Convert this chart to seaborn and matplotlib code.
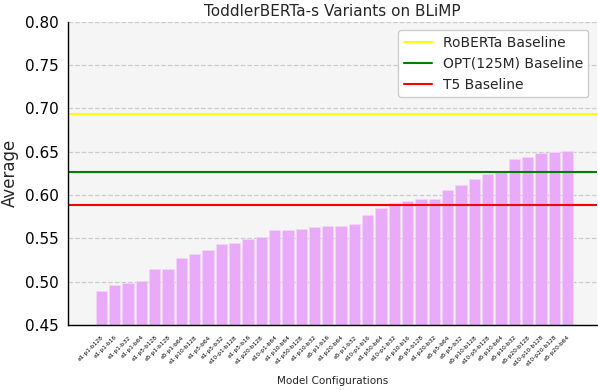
import matplotlib
matplotlib.use("Agg")
import matplotlib.pyplot as plt
import seaborn as sns
import pandas as pd

configs = [
    "e1-p1-b128", "e1-p1-b16", "e1-p1-b32", "e1-p1-b64", "e1-p5-b128", "e5-p1-b128",
    "e5-p1-b64", "e1-p10-b128", "e1-p5-b64", "e1-p5-b32", "e10-p1-b128", "e1-p5-b16",
    "e1-p20-b128", "e10-p1-b64", "e1-p10-b64", "e1-p50-b128", "e1-p10-b32", "e5-p1-b16",
    "e1-p20-b64", "e5-p1-b32", "e10-p1-b16", "e1-p50-b64", "e10-p1-b32", "e1-p10-b16",
    "e5-p5-b128", "e1-p20-b32", "e5-p5-b64", "e5-p5-b32", "e5-p10-b128", "e10-p5-b128",
    "e5-p10-b64", "e5-p10-b32", "e5-p20-b128", "e10-p10-b128", "e10-p20-b128", "e5-p20-b64",
]
averages = [
    0.489, 0.496, 0.498, 0.501, 0.514, 0.515,
    0.527, 0.532, 0.536, 0.543, 0.545, 0.549,
    0.552, 0.559, 0.560, 0.561, 0.563, 0.564,
    0.564, 0.566, 0.577, 0.585, 0.591, 0.593,
    0.595, 0.595, 0.606, 0.612, 0.619, 0.624,
    0.626, 0.642, 0.644, 0.649, 0.650, 0.651,
]
baseline_names = ["RoBERTa Baseline", "OPT(125M) Baseline", "T5 Baseline"]
baseline_values = [0.694, 0.626, 0.589]
baseline_colors = ["yellow", "green", "red"]

df = pd.DataFrame({"config": configs, "average": averages})

sns.set_style("whitegrid")
plt.rcParams["font.family"] = ["DejaVu Sans"]

fig, ax = plt.subplots(figsize=(5.98, 3.9), dpi=100)
ax.set_facecolor("#f5f5f5")

sns.barplot(data=df, x="config", y="average", color="#e8aaf9", saturation=1,
            width=0.85, edgecolor="#f3d6fb", linewidth=0.6, ax=ax)

for name, val, col in zip(baseline_names, baseline_values, baseline_colors):
    ax.axhline(val, color=col, linewidth=1.5, label=name)

ax.set_ylim(0.45, 0.80)
ax.set_xlim(-2.5, len(configs) + 1.2)
ax.grid(axis="y", linestyle="--", color="#cccccc", linewidth=0.9)
ax.grid(axis="x", visible=False)
ax.set_axisbelow(True)

for s in ["top", "right"]:
    ax.spines[s].set_visible(False)
for s in ["left", "bottom"]:
    ax.spines[s].set_color("black")
    ax.spines[s].set_linewidth(1.0)

ax.tick_params(axis="x", labelsize=4.2, rotation=45, length=4, width=0.8, colors="black", pad=3)
ax.tick_params(axis="y", labelsize=11, length=3.5, width=0.8, colors="black")
plt.setp(ax.get_xticklabels(), ha="right", rotation_mode="anchor")

ax.set_title("ToddlerBERTa-s Variants on BLiMP", fontsize=11, pad=4)
ax.set_ylabel("Average", fontsize=12)
ax.set_xlabel("Model Configurations", fontsize=7.5, labelpad=6)

ax.legend(loc="upper right", fontsize=10, frameon=True, facecolor="white",
          edgecolor="#cccccc", framealpha=1, borderaxespad=0.6)

fig.subplots_adjust(left=0.114, right=0.998, top=0.944, bottom=0.167)
fig.savefig("out.png", dpi=100)
